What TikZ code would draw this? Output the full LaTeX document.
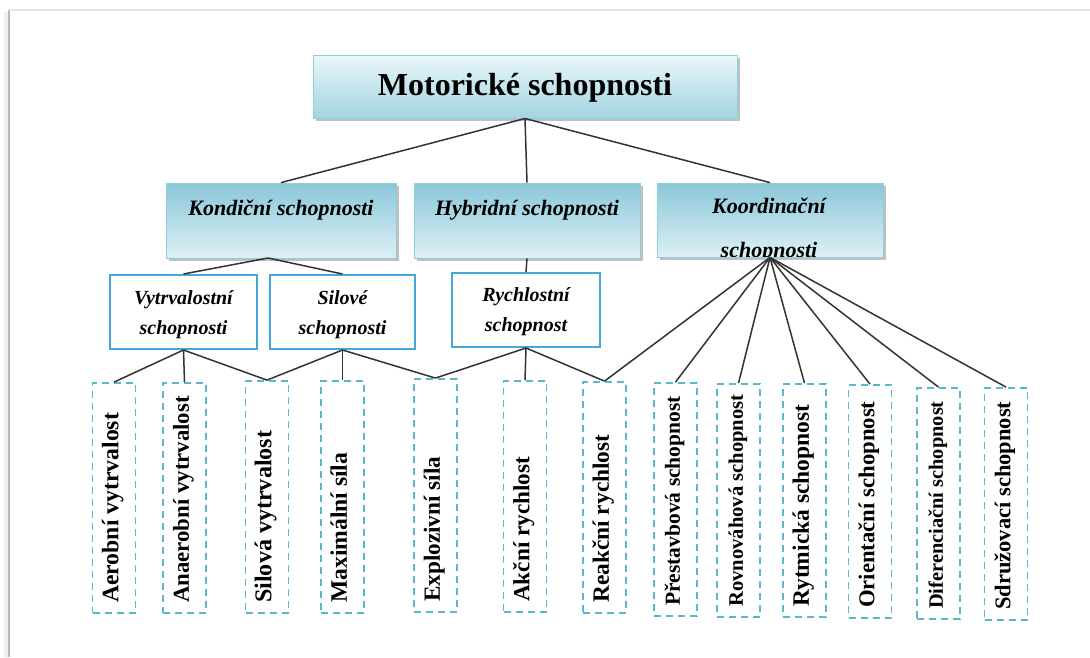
\documentclass[tikz,border=0pt]{standalone}
\usepackage{fontspec}
\setmainfont{Liberation Serif}
\usetikzlibrary{shadows}
\definecolor{lnk}{HTML}{333333}
\definecolor{edgec}{HTML}{8ECFDC}
\definecolor{tbtop}{HTML}{EAF7FA}
\definecolor{tbbot}{HTML}{A3D4E1}
\definecolor{cbtop}{HTML}{8AC7D9}
\definecolor{cbbot}{HTML}{DDF0F5}
\definecolor{subc}{HTML}{45A8DC}
\definecolor{leafc}{HTML}{5BB8CC}
\newcommand{\mkleaf}[7]{%
  \node[leafbox, minimum height={(#5-#4)*1pt}] (#1) at ({(#2+#3)/2},{(#4+#5)/2}) {};
  \node[rotate=90, anchor=mid west, inner sep=0, font=\bfseries\fontsize{#6}{#6}\selectfont] (#1t) at ({(#2+#3)/2+2},{#5-10}) {#7};
}
\begin{document}
\begin{tikzpicture}[x=1pt,y=-1pt,
 conn/.style={draw=lnk, line width=1.5pt},
 shadowed/.style={drop shadow={shadow xshift=3pt,shadow yshift=-3pt,opacity=0.35,fill=black!70}},
 titlebox/.style={shadowed, draw=edgec, line width=1pt, top color=tbtop, bottom color=tbbot, inner sep=0},
 catbox/.style={shadowed, draw=edgec, line width=0.8pt, top color=cbtop, bottom color=cbbot, inner sep=0},
 subbox/.style={draw=subc, line width=2pt, fill=white, inner sep=0},
 leafbox/.style={draw=leafc, line width=1.8pt, dash pattern=on 7pt off 5pt, inner sep=0, minimum width=43pt},
 lbl/.style={inner sep=0, anchor=base},
 cattext/.style={lbl, font=\bfseries\itshape\fontsize{22}{26}\selectfont},
 subtext/.style={lbl, font=\bfseries\itshape\fontsize{20}{24}\selectfont},
]
\useasboundingbox (0,0) rectangle (1090,657);
\fill[white] (0,0) rectangle (1090,657);
\draw[gray!12, line width=4pt] (6,12) -- (6,657);
\draw[gray!55, line width=1.2pt] (9,10) -- (9,657);
\draw[gray!20, line width=1.5pt] (9,10) -- (1090,10);

% level 1
\node[titlebox, minimum width=424pt, minimum height=63pt] (mot) at (525,86.5) {};
\node[lbl, font=\bfseries\fontsize{32}{36}\selectfont] (mott) at (525,95) {Motorické schopnosti};

% level 2
\node[catbox, minimum width=230pt, minimum height=75pt] (kond) at (281,220.5) {};
\node[cattext] (kondt) at (281,215) {Kondiční schopnosti};
\node[catbox, minimum width=226pt, minimum height=75pt] (hyb) at (527,220.5) {};
\node[cattext] (hybt) at (527,215) {Hybridní schopnosti};
\node[catbox, minimum width=226pt, minimum height=74pt] (koor) at (770,220) {};
\begin{scope}
\clip (657,183) rectangle (883,256);
\node[cattext] (koort1) at (769,213) {Koordinační};
\node[cattext] (koort2) at (769,257) {schopnosti};
\end{scope}

% level 3
\node[subbox, minimum width=147pt, minimum height=74pt] (vytr) at (183.5,312) {};
\node[subtext] (vytrt1) at (183.5,304) {Vytrvalostní};
\node[subtext] (vytrt2) at (183.5,334) {schopnosti};
\node[subbox, minimum width=145pt, minimum height=74pt] (sil) at (342.5,312) {};
\node[subtext] (silt1) at (342.5,304) {Silové};
\node[subtext] (silt2) at (342.5,334) {schopnosti};
\node[subbox, minimum width=148pt, minimum height=74pt] (rych) at (526,310) {};
\node[subtext] (rycht1) at (526,301) {Rychlostní};
\node[subtext] (rycht2) at (526,331) {schopnost};

% leaves
\mkleaf{aer}{93}{135}{383}{613}{23.7}{Aerobní vytrvalost}
\mkleaf{anaer}{163}{206}{383}{613}{22.8}{Anaerobní vytrvalost}
\mkleaf{silv}{246}{288}{381}{613}{24.1}{Silová vytrvalost}
\mkleaf{maxs}{321}{364}{381}{613}{23.6}{Maximální síla}
\mkleaf{expl}{413}{458}{379}{612}{23.2}{Explozivní síla}
\mkleaf{akc}{503}{547}{381}{612}{23.2}{Akční rychlost}
\mkleaf{reak}{583}{626}{382}{613}{23.4}{Reakční rychlost}
\mkleaf{prest}{654}{697}{383}{616}{21.5}{Přestavbová schopnost}
\mkleaf{rovn}{717}{760}{384}{617}{20.6}{Rovnováhová schopnost}
\mkleaf{rytm}{783}{826}{384}{617}{23.5}{Rytmická schopnost}
\mkleaf{orie}{848}{892}{385}{618}{22.7}{Orientační schopnost}
\mkleaf{dif}{917}{960}{388}{619}{20.4}{Diferenciační schopnost}
\mkleaf{sdr}{985}{1027}{388}{620}{22.5}{Sdružovací schopnost}

% connectors
\coordinate (kv) at (268,258);
\draw[conn] (mot.south) -- (kond.north);
\draw[conn] (mot.south) -- (hyb.north);
\draw[conn] (mot.south) -- (koor.north);
\draw[conn] (kv) -- (vytr.north);
\draw[conn] (kv) -- (sil.north);
\draw[conn] (hyb.south) -- (rych.north);
\foreach \t in {aer,anaer,silv} \draw[conn] (vytr.south) -- (\t.north);
\foreach \t in {silv,maxs,expl} \draw[conn] (sil.south) -- (\t.north);
\foreach \t in {expl,akc,reak} \draw[conn] (rych.south) -- (\t.north);
\foreach \t in {reak,prest,rovn,rytm,orie,dif,sdr} \draw[conn] (koor.south) -- (\t.north);
\end{tikzpicture}
\end{document}
